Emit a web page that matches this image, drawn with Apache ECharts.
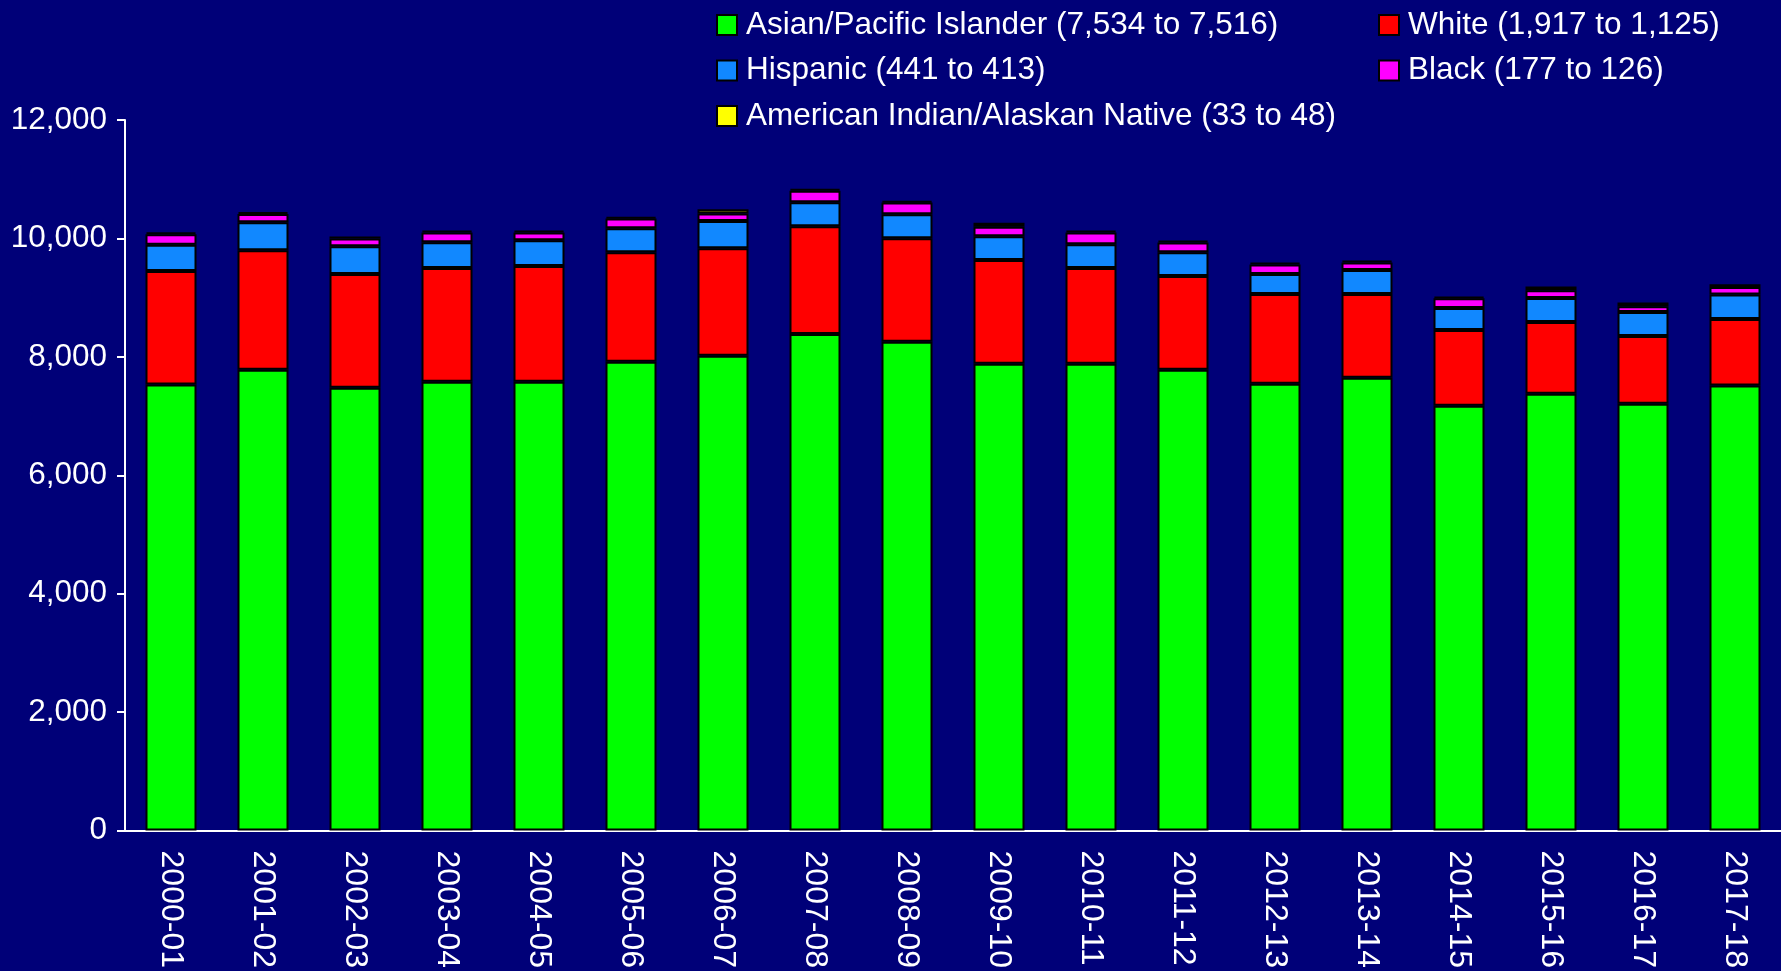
<!DOCTYPE html>
<html>
<head>
<meta charset="utf-8">
<script src="https://cdn.jsdelivr.net/npm/echarts@6/dist/echarts.min.js"></script>
<style>
  html, body { margin: 0; padding: 0; background: #000078; }
  #chart { width: 1781px; height: 971px; }
</style>
</head>
<body>
<div id="chart"></div>
<script>
const years = ['2000-01', '2001-02', '2002-03', '2003-04', '2004-05', '2005-06', '2006-07', '2007-08', '2008-09',
  '2009-10', '2010-11', '2011-12', '2012-13', '2013-14', '2014-15', '2015-16', '2016-17', '2017-18']

const asian    = [7534, 7781, 7478, 7579, 7579, 7916, 8017, 8387, 8253, 7882, 7882, 7781, 7545, 7646, 7175, 7377, 7208, 7516]
const white    = [1917, 2021, 1920, 1920, 1954, 1852, 1819, 1819, 1751, 1752, 1617, 1583, 1516, 1415, 1280, 1212, 1146, 1125]
const hispanic = [441, 472, 471, 438, 437, 405, 457, 404, 404, 404, 404, 404, 337, 404, 370, 405, 404, 413]
const black    = [177, 140, 130, 163, 130, 163, 130, 197, 197, 160, 197, 164, 163, 130, 163, 130, 95, 126]
const amind    = [33, 33, 34, 30, 30, 30, 68, 30, 30, 68, 30, 30, 30, 30, 30, 66, 66, 48]

const yTicks = [0, 2000, 4000, 6000, 8000, 10000, 12000]

const names = {
  asian: 'Asian/Pacific Islander (7,534 to 7,516)',
  white: 'White (1,917 to 1,125)',
  hispanic: 'Hispanic (441 to 413)',
  black: 'Black (177 to 126)',
  amind: 'American Indian/Alaskan Native (33 to 48)'
}

const font = "'Liberation Sans', Arial, sans-serif"

function bar(name, data, color) {
  return {
    name: name,
    type: 'bar',
    stack: 'total',
    barWidth: 51,
    data: data,
    itemStyle: { color: color, borderColor: '#000', borderWidth: 2 }
  }
}

const legendText = { color: '#fff', fontSize: 31.5, fontFamily: font, lineHeight: 32, padding: [0, 0, 0, 4] }

const chart = echarts.init(document.getElementById('chart'))
chart.setOption({
  backgroundColor: '#000078',
  animation: false,
  legend: [
    {
      orient: 'vertical', left: 711, top: 4, itemGap: 13.5,
      itemWidth: 20, itemHeight: 20, icon: 'rect',
      textStyle: legendText,
      data: [names.asian, names.hispanic, names.amind]
    },
    {
      orient: 'vertical', left: 1373, top: 4, itemGap: 13.5,
      itemWidth: 20, itemHeight: 20, icon: 'rect',
      textStyle: legendText,
      data: [names.white, names.black]
    }
  ],
  grid: { left: 125, top: 120, width: 1667, bottom: 139 },
  xAxis: {
    type: 'category',
    data: years,
    axisLine: { lineStyle: { color: '#fff', width: 2 } },
    axisTick: { length: 8, lineStyle: { color: '#fff', width: 2 } },
    axisLabel: { rotate: -90, color: '#fff', fontSize: 32, fontFamily: font, margin: 20 }
  },
  yAxis: {
    type: 'value',
    min: yTicks[0],
    max: yTicks[yTicks.length - 1],
    interval: yTicks[1] - yTicks[0],
    axisLine: { show: true, lineStyle: { color: '#fff', width: 2 } },
    axisTick: { show: true, length: 8, lineStyle: { color: '#fff', width: 2 } },
    splitLine: { show: false },
    axisLabel: {
      color: '#fff', fontSize: 31.5, fontFamily: font, margin: 18,
      formatter: v => v.toLocaleString('en-US')
    }
  },
  series: [
    bar(names.asian, asian, '#00ff00'),
    bar(names.white, white, '#ff0000'),
    bar(names.hispanic, hispanic, '#1188ff'),
    bar(names.black, black, '#ff00ff'),
    bar(names.amind, amind, '#ffff00')
  ]
})
</script>
</body>
</html>
